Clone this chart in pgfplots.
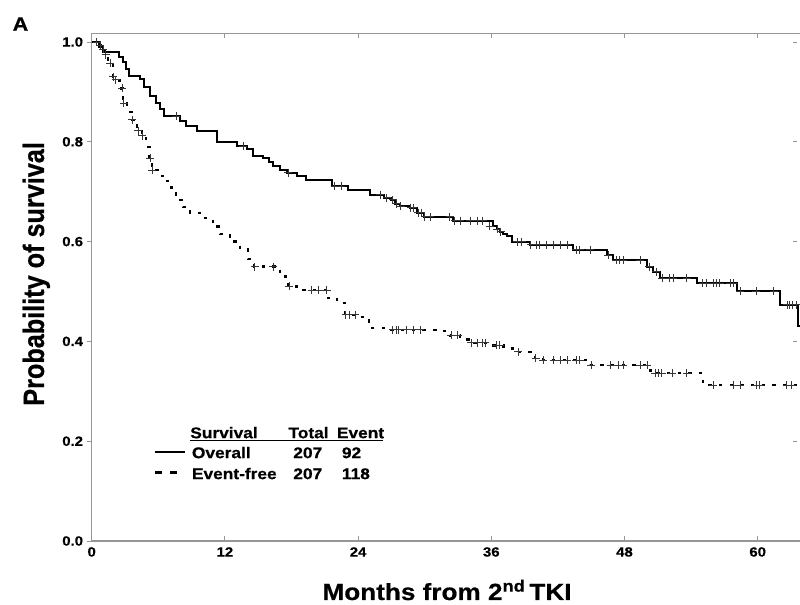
\documentclass[border=0pt]{standalone}
\usepackage{fontspec}
\setmainfont{Liberation Sans}[FakeStretch=1.12, BoldFeatures={FakeBold=0.6}]
\newfontfamily\ylabfont{Liberation Sans}[FakeStretch=0.86, BoldFeatures={FakeBold=0.6}]
\usepackage{pgfplots}
\pgfplotsset{compat=1.18}
\definecolor{axisgray}{RGB}{150,150,150}
\definecolor{censor}{RGB}{55,55,55}
\tikzset{lg/.style={anchor=base west, inner sep=0pt, font=\fontsize{11.6}{13}\selectfont\bfseries}}

\begin{document}
\begin{tikzpicture}
\begin{axis}[
  scale only axis, width=532.8pt, height=380.8pt,
  xmin=0, xmax=64, ymin=0, ymax=1.0175,
  axis line style={axisgray, line width=0.9pt},
  xtick={0,12,24,36,48,60}, ytick={0,0.2,0.4,0.6,0.8,1.0},
  tick align=inside, major tick length=3.5pt,
  tick style={axisgray, line width=0.6pt},
  ytick style={xshift=-3.5pt},
  /pgf/number format/assume math mode=true,
  ticklabel style={font=\fontsize{10}{12}\selectfont\bfseries},
  xticklabel style={anchor=north, inner sep=0pt, yshift=-4.5pt},
  yticklabel style={anchor=east, inner sep=0pt, xshift=-6.3pt,
    /pgf/number format/.cd, fixed, fixed zerofill, precision=1},
]
% overall survival
\addplot[const plot, black, line width=1.5pt] table {
0 1.000
0.63 0.990
1.04 0.980
2.48 0.970
2.79 0.960
3.10 0.945
3.40 0.932
4.33 0.926
4.74 0.910
5.25 0.892
5.77 0.878
6.18 0.865
6.48 0.851
7.92 0.842
8.54 0.832
9.46 0.822
11.26 0.799
13.06 0.791
13.98 0.785
14.50 0.771
15.42 0.768
15.93 0.760
16.34 0.751
16.96 0.744
17.58 0.738
18.50 0.731
19.32 0.724
21.68 0.711
23.12 0.704
25.07 0.694
26.31 0.688
26.92 0.684
27.33 0.676
27.74 0.671
28.67 0.668
29.28 0.658
29.90 0.650
32.57 0.642
36.16 0.631
36.47 0.625
36.78 0.620
37.09 0.615
37.40 0.611
37.91 0.600
39.45 0.594
43.35 0.584
46.44 0.573
46.95 0.563
50.03 0.550
50.54 0.540
51.16 0.527
54.55 0.517
58.14 0.500
62.04 0.473
63.60 0.430
64.00 0.430
};
% event-free survival
\addplot[const plot, black, line width=1.7pt, dash pattern=on 2.5pt off 5.5pt] table {
0 1.000
0.60 0.993
1.00 0.985
1.20 0.974
1.50 0.957
1.90 0.930
2.10 0.924
2.50 0.907
2.80 0.877
3.20 0.860
3.60 0.844
4.10 0.822
4.50 0.812
4.90 0.790
5.20 0.767
5.40 0.743
6.07 0.732
6.79 0.721
7.20 0.700
7.61 0.684
8.23 0.670
8.85 0.658
9.77 0.648
10.90 0.630
11.56 0.615
12.46 0.600
13.36 0.585
14.08 0.565
14.62 0.550
16.96 0.530
17.68 0.510
18.50 0.503
21.27 0.487
22.09 0.477
22.81 0.453
23.84 0.449
24.97 0.427
26.31 0.423
31.03 0.421
32.26 0.412
33.19 0.404
34.11 0.397
35.55 0.392
37.09 0.386
38.32 0.379
39.96 0.366
40.68 0.362
44.89 0.352
50.34 0.336
55.06 0.312
64.00 0.312
};
% censored, overall
\addplot[only marks, mark=+, mark size=3pt, censor, mark options={line width=0.7pt}] table {
7.61 0.851
13.67 0.791
17.70 0.738
21.89 0.711
22.50 0.711
26.00 0.694
26.60 0.688
27.10 0.684
27.45 0.676
27.85 0.671
28.75 0.668
28.97 0.668
29.40 0.658
29.70 0.658
30.00 0.650
30.50 0.650
32.26 0.650
32.70 0.642
33.19 0.642
34.11 0.642
34.73 0.642
35.24 0.642
35.86 0.631
36.55 0.625
36.85 0.620
38.32 0.600
38.73 0.600
39.55 0.594
40.07 0.594
40.38 0.594
40.99 0.594
41.61 0.594
42.22 0.594
42.84 0.594
43.66 0.584
43.97 0.584
44.90 0.584
46.54 0.573
47.26 0.563
47.56 0.563
47.87 0.563
49.41 0.563
50.24 0.550
50.85 0.540
51.40 0.527
52.08 0.527
52.39 0.527
53.62 0.527
55.06 0.517
55.37 0.517
55.98 0.517
56.29 0.517
56.60 0.517
57.53 0.517
57.84 0.517
58.45 0.500
59.89 0.500
61.43 0.500
62.66 0.473
62.87 0.473
63.17 0.473
63.48 0.473
};
% censored, event-free
\addplot[only marks, mark=+, mark size=3pt, censor, mark options={line width=0.7pt}] table {
0.45 1.000
0.75 0.993
1.05 0.985
1.25 0.974
1.65 0.957
1.95 0.930
2.15 0.924
2.75 0.907
2.90 0.877
3.65 0.844
4.20 0.822
4.55 0.812
5.25 0.767
5.45 0.743
14.70 0.550
16.34 0.550
17.80 0.510
19.84 0.503
20.45 0.503
21.17 0.503
22.90 0.453
23.22 0.453
23.74 0.453
27.13 0.423
27.44 0.423
27.64 0.423
28.36 0.423
28.97 0.423
29.59 0.423
32.40 0.412
32.98 0.412
34.20 0.397
34.73 0.397
35.24 0.397
35.45 0.397
36.47 0.392
36.78 0.392
38.45 0.379
40.00 0.366
40.70 0.362
41.61 0.362
42.22 0.362
42.84 0.362
43.66 0.362
43.97 0.362
45.00 0.352
46.74 0.352
47.46 0.352
47.87 0.352
49.41 0.352
50.03 0.352
50.75 0.336
51.06 0.336
51.37 0.336
52.29 0.336
53.62 0.336
55.98 0.312
57.84 0.312
58.45 0.312
59.89 0.312
60.20 0.312
62.60 0.312
63.06 0.312
};
% legend table
\node[lg] at (axis cs:8.86,0.206) {Survival};
\node[lg] at (axis cs:17.71,0.206) {Total};
\node[lg] at (axis cs:22.07,0.206) {Event};
\draw[black, line width=1pt] (axis cs:8.86,0.201) -- (axis cs:26.24,0.201);
\node[lg] at (axis cs:9.01,0.166) {Overall};
\node[lg] at (axis cs:18.14,0.166) {207};
\node[lg] at (axis cs:22.52,0.166) {92};
\node[lg] at (axis cs:9.01,0.124) {Event-free};
\node[lg] at (axis cs:18.14,0.124) {207};
\node[lg] at (axis cs:22.52,0.124) {118};
\draw[black, line width=1.5pt] (axis cs:5.70,0.179) -- (axis cs:8.41,0.179);
\draw[black, line width=1.7pt] (axis cs:5.70,0.137) -- (axis cs:6.31,0.137);
\draw[black, line width=1.7pt] (axis cs:7.05,0.137) -- (axis cs:7.71,0.137);
\end{axis}
% axis titles and panel letter
\node[anchor=base, inner sep=0pt, font=\fontsize{17.5}{20}\selectfont\bfseries]
  at (266.5pt,-44.25pt) {Months from 2\textsuperscript{nd}\,TKI};
\node[anchor=base, inner sep=0pt, rotate=90, font=\ylabfont\fontsize{22}{26}\selectfont\bfseries]
  at (-35.8pt,200.3pt) {Probability of survival};
\node[anchor=base west, inner sep=0pt, font=\fontsize{14.5}{17}\selectfont\bfseries]
  at (-59.5pt,382.7pt) {A};
\pgfresetboundingbox
\path[use as bounding box] (-68.775pt,-48pt) rectangle (531.225pt,405.75pt);
\end{tikzpicture}
\end{document}
